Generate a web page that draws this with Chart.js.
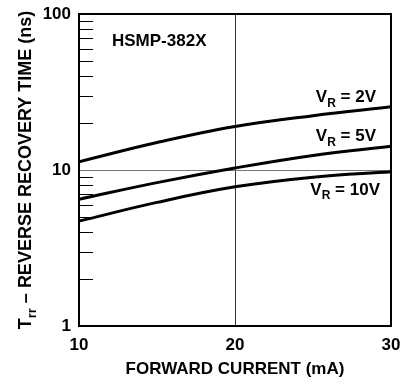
<!DOCTYPE html>
<html>
<head>
<meta charset="utf-8">
<script src="https://cdn.jsdelivr.net/npm/chart.js@4.4.1/dist/chart.umd.min.js"></script>
<style>
  html, body { margin: 0; padding: 0; background: #fff; }
  canvas { display: block; }
</style>
</head>
<body>
<canvas id="grafico" width="419" height="387"></canvas>
<script>
// forward current (mA)
var corrente = [10, 15, 20, 25, 30];
// reverse recovery time (ns) for each reverse voltage
var trr2V = [11.3, 15.0, 19.0, 22.3, 25.4];
var trr5V = [6.5, 8.3, 10.3, 12.4, 14.2];
var trr10V = [4.7, 6.2, 7.8, 9.0, 9.75];
var etichette = ['2V', '5V', '10V'];
var tickY = [1, 10, 100];
var tickMinori = [2, 3, 4, 5, 6, 7, 8, 9, 20, 30, 40, 50, 60, 70, 80, 90];
var titoloX = 'FORWARD CURRENT (mA)';
var titoloY = ['T', 'rr', ' \u2013 REVERSE RECOVERY TIME (ns)'];
var nomeParte = 'HSMP-382X';

var FONT = '"Liberation Sans", Arial, Helvetica, sans-serif';

function punti(valori){
  return corrente.map(function(x, i){ return {x: x, y: valori[i]}; });
}

function serie(valori){
  return {
    data: punti(valori),
    borderColor: '#000',
    borderWidth: 3,
    pointRadius: 0,
    fill: false,
    tension: 0.4
  };
}

// testo con pedice: [base, pedice, resto]
function scriviPedice(ctx, parti, x, y, size, align){
  ctx.font = 'bold ' + size + 'px ' + FONT;
  var w0 = ctx.measureText(parti[0]).width;
  var w2 = ctx.measureText(parti[2]).width;
  ctx.font = 'bold ' + Math.round(size * 0.72) + 'px ' + FONT;
  var w1 = ctx.measureText(parti[1]).width;
  var tot = w0 + w1 + w2;
  var x0 = align === 'right' ? x - tot : (align === 'center' ? x - tot / 2 : x);
  ctx.textAlign = 'left';
  ctx.textBaseline = 'alphabetic';
  ctx.font = 'bold ' + size + 'px ' + FONT;
  ctx.fillText(parti[0], x0, y);
  ctx.font = 'bold ' + Math.round(size * 0.72) + 'px ' + FONT;
  ctx.fillText(parti[1], x0 + w0, y + size * 0.28);
  ctx.font = 'bold ' + size + 'px ' + FONT;
  ctx.fillText(parti[2], x0 + w0 + w1, y);
}

var decorazioni = {
  id: 'decorazioni',
  afterDatasetsDraw: function(chart){
    var ctx = chart.ctx;
    var xs = chart.scales.x, ys = chart.scales.y;
    var area = chart.chartArea;
    ctx.save();
    ctx.fillStyle = '#000';
    ctx.strokeStyle = '#000';

    // tacche minori all'interno dell'asse Y
    ctx.lineWidth = 1;
    tickMinori.forEach(function(v){
      var py = Math.round(ys.getPixelForValue(v)) + 0.5;
      ctx.beginPath();
      ctx.moveTo(area.left, py);
      ctx.lineTo(area.left + 14, py);
      ctx.stroke();
    });

    // nome del componente
    ctx.font = 'bold 17px ' + FONT;
    ctx.textAlign = 'left';
    ctx.textBaseline = 'alphabetic';
    ctx.fillText(nomeParte, area.left + 33, area.top + 32);

    // etichette delle curve
    var ultimi = [trr2V, trr5V, trr10V].map(function(s){ return s[s.length - 1]; });
    var xr = xs.getPixelForValue(corrente[corrente.length - 1]);
    etichette.forEach(function(t, i){
      var py = ys.getPixelForValue(ultimi[i]);
      var y = i < 2 ? py - 5 : py + 23;
      var dx = i < 2 ? 15 : 11;
      scriviPedice(ctx, ['V', 'R', ' = ' + t], xr - dx, y, 17, 'right');
    });

    // titolo asse X
    ctx.font = 'bold 17px ' + FONT;
    ctx.textAlign = 'center';
    ctx.fillText(titoloX, (area.left + area.right) / 2, 374);

    // titolo asse Y (ruotato)
    ctx.translate(31, (area.top + area.bottom) / 2);
    ctx.rotate(-Math.PI / 2);
    scriviPedice(ctx, titoloY, 0, 0, 18, 'center');
    ctx.restore();
  }
};

var ctx = document.getElementById('grafico');
var chart = new Chart(ctx, {
  type: 'line',
  data: {
    datasets: [serie(trr2V), serie(trr5V), serie(trr10V)]
  },
  options: {
    responsive: false,
    animation: false,
    events: [],
    layout: { padding: { left: 0, right: 28, top: 14, bottom: 0 } },
    plugins: { legend: { display: false }, tooltip: { enabled: false } },
    scales: {
      x: {
        type: 'linear',
        min: 10,
        max: 30,
        afterFit: function(s){ s.height = 61; },
        ticks: {
          stepSize: 10,
          color: '#000',
          padding: 9,
          font: { family: FONT, size: 17, weight: 'bold' }
        },
        grid: {
          drawTicks: false,
          lineWidth: 1,
          color: function(c){ return c.tick && c.tick.value === 20 ? '#333' : 'rgba(0,0,0,0)'; }
        },
        border: { display: true, color: '#000', width: 2 }
      },
      y: {
        type: 'logarithmic',
        min: 1,
        max: 100,
        afterFit: function(s){ s.width = 79; s.paddingTop = 0; s.paddingBottom = 0; },
        ticks: {
          autoSkip: false,
          color: '#000',
          padding: 8,
          font: { family: FONT, size: 17, weight: 'bold', lineHeight: 0.8 },
          callback: function(v){ return tickY.indexOf(v) >= 0 ? String(v) : ''; }
        },
        grid: {
          drawTicks: false,
          lineWidth: 1,
          color: function(c){ return c.tick && c.tick.value === 10 ? '#777' : 'rgba(0,0,0,0)'; }
        },
        border: { display: true, color: '#000', width: 2 }
      }
    }
  },
  plugins: [decorazioni, {
    id: 'cornice',
    afterDraw: function(chart){
      var a = chart.chartArea, c = chart.ctx;
      c.save();
      c.strokeStyle = '#000';
      c.lineWidth = 2;
      c.strokeRect(a.left, a.top, a.right - a.left, a.bottom - a.top);
      c.restore();
    }
  }]
});
</script>
</body>
</html>
